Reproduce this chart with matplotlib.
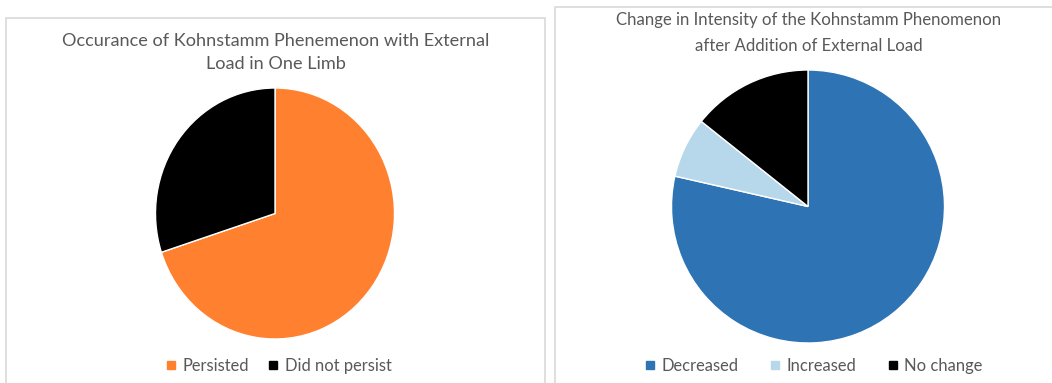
import matplotlib
matplotlib.use("Agg")
import matplotlib.pyplot as plt
from matplotlib.patches import Rectangle
from matplotlib.lines import Line2D

plt.rcParams['font.family'] = ['Lato', 'DejaVu Sans']

W, H = 1052, 383

# left chart data
left_title = "Occurance of Kohnstamm Phenemenon with External\nLoad in One Limb"
left_labels = ["Persisted", "Did not persist"]
left_values = [70, 30]
left_colors = ["#FF8130", "#000000"]

# right chart data
right_title = "Change in Intensity of the Kohnstamm Phenomenon\nafter Addition of External Load"
right_labels = ["Decreased", "Increased", "No change"]
right_values = [11, 1, 2]
right_colors = ["#2E74B5", "#B7D7EA", "#000000"]

TEXT = "#595959"
BORDER = "#D9D9D9"

fig = plt.figure(figsize=(W / 100, H / 100), dpi=100)


def px_box(x0, y0, x1, y1):
    # pixel box (top-left origin) -> figure fraction rect
    return [x0 / W, 1 - y1 / H, (x1 - x0) / W, (y1 - y0) / H]


# panel borders
for (x0, y0, x1, y1) in [(6, 18, 545, 395), (555, 7, 1070, 395)]:
    r = px_box(x0, y0, x1, y1)
    fig.patches.append(Rectangle((r[0], r[1]), r[2], r[3], transform=fig.transFigure,
                                 facecolor="none", edgecolor=BORDER, linewidth=1.2))


def draw_pie(cx, cy, rx, ry, values, colors):
    ax = fig.add_axes(px_box(cx - rx, cy - ry, cx + rx, cy + ry))
    ax.pie(values, colors=colors, startangle=90, counterclock=False, radius=1,
           wedgeprops=dict(edgecolor="white", linewidth=1))
    ax.set_aspect("auto")
    ax.set_xlim(-1, 1)
    ax.set_ylim(-1, 1)
    ax.axis("off")
    return ax


draw_pie(275, 213.5, 119.5, 125.5, left_values, left_colors)
draw_pie(808, 206.5, 136.5, 136.5, right_values, right_colors)

fig.text(276 / W, 1 - 52.5 / H, left_title, ha="center", va="center", fontsize=13.1,
         color=TEXT, linespacing=1.55)
fig.text(809 / W, 1 - 33 / H, right_title, ha="center", va="center", fontsize=12.1,
         color=TEXT, linespacing=1.7)


def add_legend(labels, colors, cx, spacing):
    handles = [Line2D([], [], marker="s", linestyle="", markersize=6, color=c) for c in colors]
    fig.legend(handles, labels, loc="center", bbox_to_anchor=(cx / W, 1 - 366 / H),
               ncol=len(labels), frameon=False, fontsize=11.9, labelcolor=TEXT,
               handlelength=0.6, handletextpad=0.4, columnspacing=spacing,
               borderaxespad=0, borderpad=0)


add_legend(left_labels, left_colors, 279, 1.15)
add_legend(right_labels, right_colors, 814, 1.9)

fig.savefig("out.png", dpi=100)
